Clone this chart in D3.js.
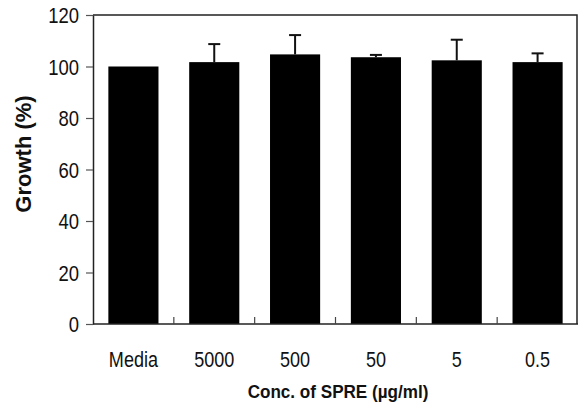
<!DOCTYPE html>
<html>
<head>
<meta charset="utf-8">
<script src="https://cdn.jsdelivr.net/npm/d3@7"></script>
<style>
body{margin:0;background:#fff}
text{font-family:"Liberation Sans",Arial,sans-serif}
</style>
</head>
<body>
<svg></svg>
<script>
var categories=["Media","5000","500","50","5","0.5"]
var growth=[100,101.7,104.7,103.6,102.4,101.7]
var errors=[0,7.0,7.5,0.9,8.0,3.4]
var yTicks=[0,20,40,60,80,100,120]

var screen={width:578,height:406}
var margins={top:15,right:0,bottom:82,left:93}

var svg=d3.select("svg")
.attr("width",screen.width)
.attr("height",screen.height)

var width=screen.width-margins.left-margins.right
var height=screen.height-margins.top-margins.bottom

var xScale=d3.scaleBand()
.domain(categories)
.range([0,width])
.paddingInner(0.38)
.paddingOuter(0.19)

var yScale=d3.scaleLinear()
.domain([0,120])
.range([height,0])

var graph=svg.append("g")
.attr("transform","translate("+margins.left+","+margins.top+")")

// bars
graph.selectAll("rect.bar")
.data(categories)
.enter()
.append("rect")
.attr("class","bar")
.attr("x",function(d){return xScale(d)})
.attr("width",xScale.bandwidth())
.attr("y",function(d,i){return yScale(growth[i])})
.attr("height",function(d,i){return height-yScale(growth[i])})
.attr("fill","black")

// error bars (upper only)
var errs=graph.selectAll("g.err")
.data(categories.filter(function(d,i){return errors[i]>0}))
.enter()
.append("g")
.attr("class","err")
.attr("stroke","#111")
.attr("stroke-width",2)

errs.append("line")
.attr("x1",function(d){return xScale(d)+xScale.bandwidth()/2})
.attr("x2",function(d){return xScale(d)+xScale.bandwidth()/2})
.attr("y1",function(d){var i=categories.indexOf(d);return yScale(growth[i])})
.attr("y2",function(d){var i=categories.indexOf(d);return yScale(growth[i]+errors[i])})

errs.append("line")
.attr("x1",function(d){return xScale(d)+xScale.bandwidth()/2-6})
.attr("x2",function(d){return xScale(d)+xScale.bandwidth()/2+6})
.attr("y1",function(d){var i=categories.indexOf(d);return yScale(growth[i]+errors[i])})
.attr("y2",function(d){var i=categories.indexOf(d);return yScale(growth[i]+errors[i])})

// frame top/right
graph.append("path")
.attr("d","M0,0H"+(width-1)+"V"+height)
.attr("fill","none")
.attr("stroke","#222")
.attr("stroke-width",1.5)

// y axis (labels drawn separately so they can be narrowed)
var yAxis=d3.axisLeft(yScale)
.tickValues(yTicks)
.tickSize(7)
.tickFormat("")
.tickSizeOuter(0)

var ya=graph.append("g").call(yAxis)
ya.select(".domain").attr("stroke","#222").attr("stroke-width",1.5)
ya.selectAll(".tick line").attr("stroke","#555").attr("stroke-width",1.2)

graph.selectAll("text.ylab")
.data(yTicks)
.enter()
.append("text")
.attr("class","ylab")
.attr("transform",function(d){return "translate(-14,"+(yScale(d)+8)+") scale(0.84,1)"})
.attr("text-anchor","end")
.attr("font-size",22)
.attr("fill","#111")
.text(function(d){return d})

// x axis: ticks between categories pointing inward
var boundaries=categories.slice(1).map(function(d){
    return xScale(d)-xScale.step()*xScale.paddingInner()/2
})

graph.append("line")
.attr("x1",0)
.attr("x2",width)
.attr("y1",height)
.attr("y2",height)
.attr("stroke","#222")
.attr("stroke-width",1.5)

graph.selectAll("line.xtick")
.data(boundaries)
.enter()
.append("line")
.attr("class","xtick")
.attr("x1",function(d){return d})
.attr("x2",function(d){return d})
.attr("y1",height)
.attr("y2",height-7)
.attr("stroke","#444")
.attr("stroke-width",1.2)

graph.selectAll("text.xlab")
.data(categories)
.enter()
.append("text")
.attr("class","xlab")
.attr("transform",function(d){return "translate("+(xScale(d)+xScale.bandwidth()/2)+","+(height+43)+") scale(0.82,1)"})
.attr("text-anchor","middle")
.attr("font-size",22)
.attr("fill","#111")
.text(function(d){return d})

// axis titles
svg.append("text")
.attr("transform","translate(338,398) scale(0.9,1)")
.attr("text-anchor","middle")
.attr("font-size",19)
.attr("font-weight","bold")
.attr("fill","#111")
.text("Conc. of SPRE (\u00b5g/ml)")

svg.append("text")
.attr("transform","translate(31,154) rotate(-90)")
.attr("text-anchor","middle")
.attr("font-size",22)
.attr("font-weight","bold")
.attr("fill","#111")
.text("Growth  (%)")
</script>
</body>
</html>
